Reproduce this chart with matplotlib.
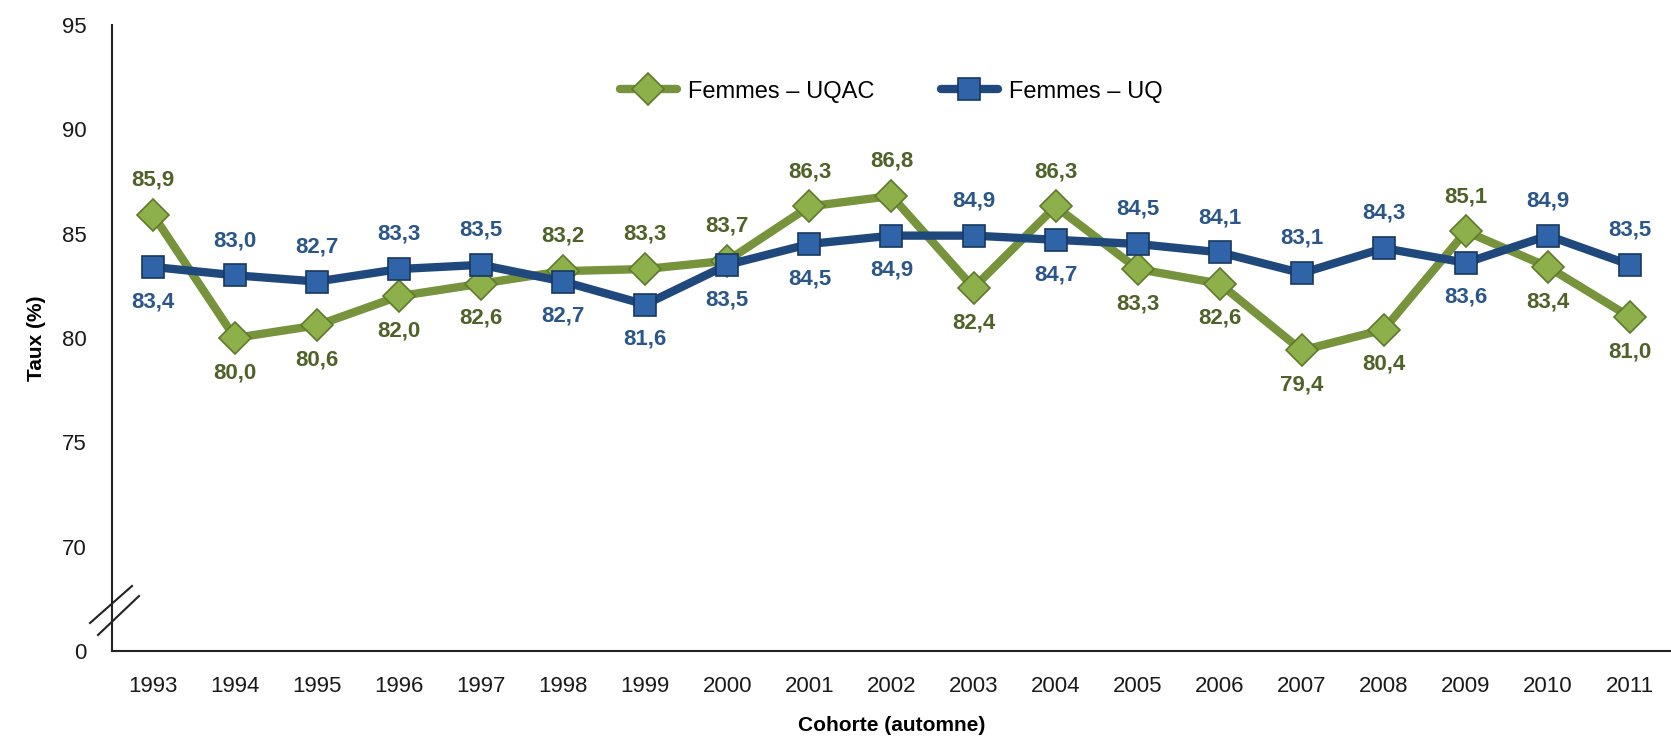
import matplotlib
matplotlib.use("Agg")
import matplotlib.pyplot as plt
from matplotlib.lines import Line2D

years = [str(y) for y in range(1993, 2012)]
uqac = [85.9, 80.0, 80.6, 82.0, 82.6, 83.2, 83.3, 83.7, 86.3, 86.8,
        82.4, 86.3, 83.3, 82.6, 79.4, 80.4, 85.1, 83.4, 81.0]
uq = [83.4, 83.0, 82.7, 83.3, 83.5, 82.7, 81.6, 83.5, 84.5, 84.9,
      84.9, 84.7, 84.5, 84.1, 83.1, 84.3, 83.6, 84.9, 83.5]
# label above (1) or below (-1) the point
uqac_pos = [1, -1, -1, -1, -1, 1, 1, 1, 1, 1, -1, 1, -1, -1, -1, -1, 1, -1, -1]
uq_pos = [-1, 1, 1, 1, 1, -1, -1, -1, -1, -1, 1, -1, 1, 1, 1, 1, -1, 1, 1]

y_ticks = [65, 70, 75, 80, 85, 90, 95]
y_tick_labels = ["0", "70", "75", "80", "85", "90", "95"]

GREEN = "#77933C"
GREEN_TXT = "#4F6228"
BLUE = "#1F497D"
BLUE_TXT = "#2A5689"

plt.rcParams["font.family"] = ["Liberation Sans Narrow", "Liberation Sans", "DejaVu Sans"]

fig = plt.figure(figsize=(16.71, 7.41), dpi=100)
ax = fig.add_axes([0.067, 0.1215, 0.933, 0.845])

xs = list(range(len(years)))
ax.plot(xs, uqac, color=GREEN, linewidth=6, marker="D", markersize=16,
        markerfacecolor="#8DB04A", markeredgecolor="#5E7A2C", markeredgewidth=1.2,
        label="Femmes – UQAC", zorder=3, solid_capstyle="round")
ax.plot(xs, uq, color=BLUE, linewidth=6, marker="s", markersize=16,
        markerfacecolor="#2F65A8", markeredgecolor="#17375E", markeredgewidth=1.2,
        label="Femmes – UQ", zorder=3, solid_capstyle="round")

for x, v, p in zip(xs, uqac, uqac_pos):
    ax.annotate(f"{v:.1f}".replace(".", ","), (x, v), xytext=(0, 25 * p),
                textcoords="offset points", ha="center", va="center",
                fontsize=16, fontweight="bold", color=GREEN_TXT)
for x, v, p in zip(xs, uq, uq_pos):
    ax.annotate(f"{v:.1f}".replace(".", ","), (x, v), xytext=(0, 25 * p),
                textcoords="offset points", ha="center", va="center",
                fontsize=16, fontweight="bold", color=BLUE_TXT)

ax.set_xlim(-0.5, 18.5)
ax.set_ylim(65, 95)
ax.set_xticks(xs)
ax.set_xticklabels(years)
ax.set_yticks(y_ticks)
ax.set_yticklabels(y_tick_labels)
ax.tick_params(axis="both", length=0, labelsize=16, colors="#1a1a1a")
ax.tick_params(axis="x", pad=18)
ax.tick_params(axis="y", pad=18)

for side in ("top", "right"):
    ax.spines[side].set_visible(False)
for side in ("left", "bottom"):
    ax.spines[side].set_linewidth(1.5)
    ax.spines[side].set_color("#222222")

ax.set_xlabel("Cohorte (automne)", fontsize=15, fontweight="bold", labelpad=14)
ax.set_ylabel("Taux (%)", fontsize=15, fontweight="bold", labelpad=12)

# axis break marks
W, H = 1671, 741
for (x0, y0, x1, y1) in [(90, 623, 132, 586), (98, 635, 139, 596)]:
    fig.add_artist(Line2D([x0 / W, x1 / W], [1 - y0 / H, 1 - y1 / H],
                          transform=fig.transFigure, color="#222222", linewidth=1.5))

ax.legend(loc="upper center", bbox_to_anchor=(0.5, 0.945), ncol=2, frameon=False,
          fontsize=17, handlelength=2.4, columnspacing=2.8, handletextpad=0.5)

fig.savefig("out.png", dpi=100)
